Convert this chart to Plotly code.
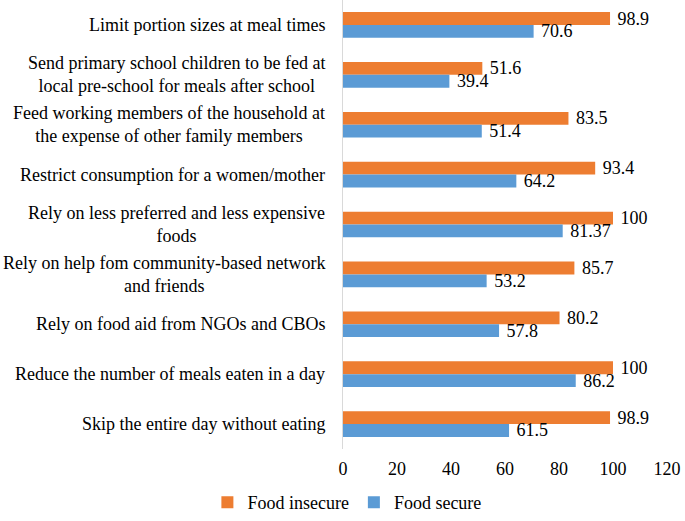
import plotly.graph_objects as go

categories = [
    "Limit portion sizes at meal times",
    "Send primary school children to be fed at<br>local pre-school for meals after school",
    "Feed working members of the household at<br>the expense of other family members",
    "Restrict consumption for a women/mother",
    "Rely on less preferred and less expensive<br>foods",
    "Rely on help fom community-based network<br>and friends",
    "Rely on food aid from NGOs and CBOs",
    "Reduce the number of meals eaten in a day",
    "Skip the entire day without eating",
]
food_insecure = [98.9, 51.6, 83.5, 93.4, 100, 85.7, 80.2, 100, 98.9]
food_secure = [70.6, 39.4, 51.4, 64.2, 81.37, 53.2, 57.8, 86.2, 61.5]
x_ticks = [0, 20, 40, 60, 80, 100, 120]

FONT = "Liberation Serif, Times New Roman, serif"

fig = go.Figure()
fig.add_trace(go.Bar(
    y=categories, x=food_insecure, orientation="h", name="Food insecure",
    marker=dict(color="#ED7D31", line=dict(width=0)),
    texttemplate=" %{x}", textposition="outside", cliponaxis=False,
    constraintext="none",
    textfont=dict(family=FONT, size=18, color="#000"),
))
fig.add_trace(go.Bar(
    y=categories, x=food_secure, orientation="h", name="Food secure",
    marker=dict(color="#5B9BD5", line=dict(width=0)),
    texttemplate=" %{x}", textposition="outside", cliponaxis=False,
    constraintext="none",
    textfont=dict(family=FONT, size=18, color="#000"),
))

annotations = []
for c in categories:
    annotations.append(dict(
        x=-0.05, xref="paper", y=c, yref="y", text=c, showarrow=False,
        xanchor="right", yanchor="middle", align="center",
        font=dict(family=FONT, size=18, color="#000"),
    ))

fig.update_layout(
    width=685, height=521,
    margin=dict(l=343, r=18, t=0, b=66),
    paper_bgcolor="white", plot_bgcolor="white",
    barmode="group", bargap=0.485, bargroupgap=0,
    font=dict(family=FONT, size=18, color="#000"),
    showlegend=True,
    legend=dict(orientation="h", x=0.012, xanchor="center", y=-0.119, yanchor="middle",
                font=dict(family=FONT, size=18, color="#000"), itemwidth=30,
                traceorder="normal"),
    annotations=annotations,
)
fig.update_xaxes(range=[0, 120], tickvals=x_ticks, showgrid=False, zeroline=False,
                 showline=False, ticks="", ticklabelstandoff=7,
                 tickfont=dict(family=FONT, size=18, color="#000"))
fig.update_yaxes(autorange="reversed", showticklabels=False, showgrid=False,
                 showline=True, linecolor="#D9D9D9", linewidth=1, ticks="")

fig.write_html("out.html", config={"displayModeBar": False},
               post_script="document.body.style.margin='0';document.body.style.padding='0';")
